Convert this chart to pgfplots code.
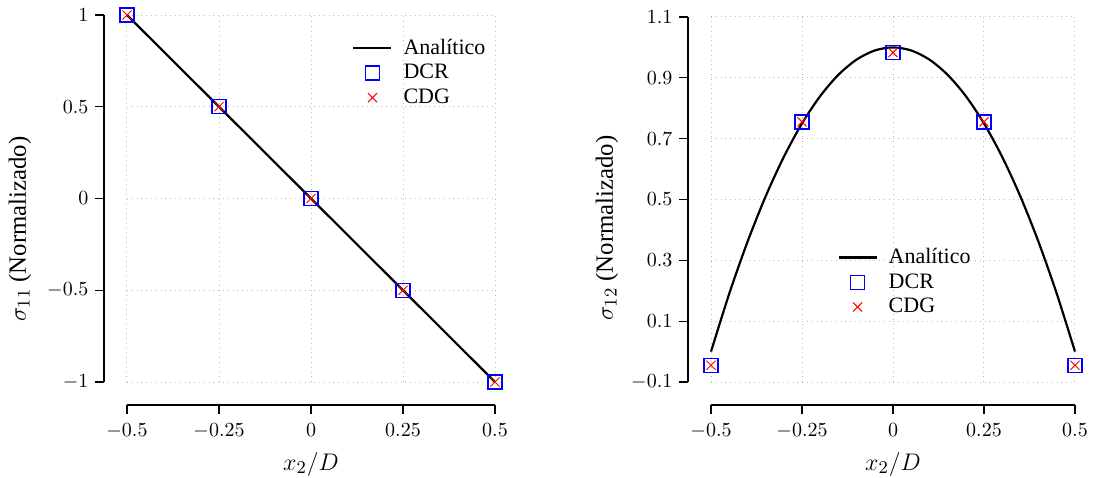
\documentclass[border=0pt]{standalone}
\usepackage{fontspec}
\setmainfont{Liberation Serif}
\usepackage{pgfplots}
\pgfplotsset{compat=1.18}

\pgfplotsset{
  stressaxis/.style={
    scale only axis,
    axis lines=left,
    axis line style={-, line width=0.6pt},
    axis x line shift=11.5pt,
    axis y line shift=11.5pt,
    tick align=outside,
    major tick length=4.3pt,
    tick style={black, line width=0.6pt},
    xtick={-0.5,-0.25,0,0.25,0.5},
    xticklabels={$-0.5$,$-0.25$,$0$,$0.25$,$0.5$},
    xticklabel style={yshift=-1.5pt},
    xmin=-0.5, xmax=0.5,
    grid=major,
    grid style={dotted, gray!55, line width=0.5pt},
    clip=false,
    xlabel={$x_2/D$},
    label style={font=\fontsize{12.4}{14}\selectfont},
    xlabel style={at={(rel axis cs:0.5,0)}, yshift=-41pt, anchor=center},
    legend style={draw=none, fill=none, anchor=north west,
      font=\fontsize{11}{13}\selectfont, row sep=-0.5pt, column sep=3.5pt,
      legend cell align=left},
    legend image code/.code={\draw[##1] (0pt,0pt) -- (19pt,0pt);},
  },
  analytic/.style={black, line width=1.1pt, no marks},
  dcr/.style={only marks, blue, mark=square, mark size=3.5pt,
    mark options={line width=0.6pt, draw=blue},
    legend image code/.code={\draw[##1] plot coordinates {(9.5pt,0pt)};}},
  cdg/.style={only marks, red, mark=x, mark size=3.2pt,
    mark options={line width=0.5pt, draw=red},
    legend image code/.code={\draw[##1] plot coordinates {(9.5pt,0pt)};}},
}

\begin{document}
\begin{tikzpicture}
\useasboundingbox (-63.5pt,-47.5pt) rectangle (485pt,191pt);

% sigma_11 across the section
\begin{axis}[stressaxis,
  at={(0pt,0pt)}, anchor=south west,
  width=184pt, height=183.5pt,
  ymin=-1, ymax=1,
  ytick={-1,-0.5,0,0.5,1},
  yticklabels={$-1$,$-0.5$,$0$,$0.5$,$1$},
  ylabel={$\sigma_{11}$ (Normalizado)},
  ylabel style={at={(rel axis cs:0,0.417)}, rotate=0, yshift=53.5pt, anchor=center},
  legend style={at={(axis cs:0.095,0.915)}},
]
\addplot[analytic] coordinates {(-0.5,1) (0.5,-1)};
\addlegendentry{Analítico}
\addplot[dcr] coordinates {(-0.5,1) (-0.25,0.5) (0,0) (0.25,-0.5) (0.5,-1)};
\addlegendentry{DCR}
\addplot[cdg] coordinates {(-0.5,1) (-0.25,0.5) (0,0) (0.25,-0.5) (0.5,-1)};
\addlegendentry{CDG}
\end{axis}

% sigma_12 across the section
\begin{axis}[stressaxis,
  at={(292pt,0pt)}, anchor=south west,
  width=182pt, height=182.5pt,
  ymin=-0.1, ymax=1.1,
  ytick={-0.1,0.1,0.3,0.5,0.7,0.9,1.1},
  yticklabels={$-0.1$,$0.1$,$0.3$,$0.5$,$0.7$,$0.9$,$1.1$},
  ylabel={$\sigma_{12}$ (Normalizado)},
  ylabel style={at={(rel axis cs:0,0.422)}, rotate=0, yshift=52pt, anchor=center},
  legend style={at={(axis cs:-0.17,0.367)}},
]
\addplot[analytic, smooth] coordinates {
  (-0.5,0) (-0.45,0.19) (-0.4,0.36) (-0.35,0.51) (-0.3,0.64) (-0.25,0.75)
  (-0.2,0.84) (-0.15,0.91) (-0.1,0.96) (-0.05,0.99) (0,1)
  (0.05,0.99) (0.1,0.96) (0.15,0.91) (0.2,0.84) (0.25,0.75)
  (0.3,0.64) (0.35,0.51) (0.4,0.36) (0.45,0.19) (0.5,0)};
\addlegendentry{Analítico}
\addplot[dcr] coordinates {(-0.5,-0.045) (-0.25,0.755) (0,0.983) (0.25,0.755) (0.5,-0.045)};
\addlegendentry{DCR}
\addplot[cdg] coordinates {(-0.5,-0.045) (-0.25,0.755) (0,0.983) (0.25,0.755) (0.5,-0.045)};
\addlegendentry{CDG}
\end{axis}
\end{tikzpicture}
\end{document}
